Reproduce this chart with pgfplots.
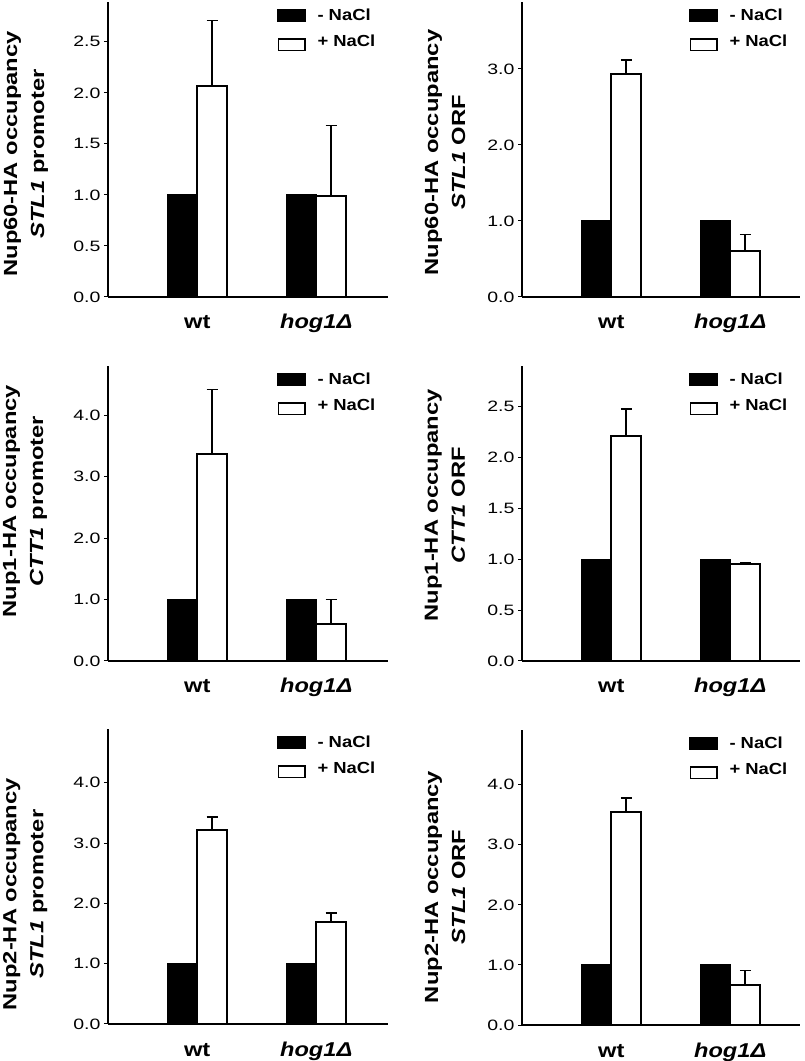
\documentclass[border=0pt]{standalone}
\usepackage{fontspec}
\setmainfont{Liberation Sans}
\newfontfamily\tickf{Liberation Sans}[FakeStretch=1.3]
\newfontfamily\labf{Liberation Sans}[FakeStretch=1.25]
\newfontfamily\xf{Liberation Sans}[FakeStretch=1.18]
\newfontfamily\legf{Liberation Sans}[FakeStretch=1.15]
\usepackage{pgfplots}
\pgfplotsset{compat=1.18}
\pgfplotsset{
  panel/.style={
    scale only axis, width=280pt, height=295pt,
    ybar=0pt, bar width=30pt,
    xmin=0.25, xmax=2.603, ymin=0,
    axis x line*=bottom, axis y line*=left,
    axis line style={-, line width=1.8pt, black},
    xtick={1,2}, xticklabels={wt, \textit{hog1Δ}},
    tick style={line width=1pt, black},
    every x tick/.style={draw=none},
    every major x tick/.style={draw=none},
    tick align=outside, major tick length=4pt,
    /pgf/number format/assume math mode=true,
    yticklabel style={font=\tickf\fontsize{15}{15}\selectfont,
      /pgf/number format/.cd, fixed, fixed zerofill, precision=1},
    xticklabel style={font=\xf\bfseries\fontsize{20}{20}\selectfont, anchor=base, yshift=-28pt},
    ylabel style={align=center, font=\labf\bfseries\fontsize{19}{27}\selectfont, anchor=center, inner sep=0pt},
    legend style={draw=none, fill=none, inner sep=0pt, row sep=12pt,
      at={(axis description cs:1,1)}, anchor=north east, xshift=-12.5pt, yshift=-7pt,
      font=\legf\bfseries\fontsize{16}{16}\selectfont,
      nodes={inner sep=0pt}, cells={anchor=west}},
    clip=false,
  },
  blackbar/.style={fill=black, draw=black, line width=1pt,
    legend image code/.code={\fill[black] (0pt,-5.75pt) rectangle (28pt,6.25pt); \path[draw=none,fill=none] (0pt,0pt) -- (40pt,0pt);}},
  whitebar/.style={fill=white, draw=black, line width=1.8pt,
    error bars/.cd, y dir=plus, y explicit,
    error bar style={line width=1.6pt, black},
    error mark=-,
    error mark options={rotate=90, line width=1.6pt, mark size=5.5pt, black},
    /pgfplots/legend image code/.code={\draw[black, fill=white, line width=1.5pt] (0.75pt,-9.7pt) rectangle (27.25pt,1.8pt); \path[draw=none,fill=none] (0pt,0pt) -- (40pt,0pt);}},
}
\begin{document}
\begin{tikzpicture}
\path[use as bounding box] (0,0) rectangle (805pt,1061pt);
% Panel 1
\begin{axis}[panel, at={(108pt,764pt)}, width=280pt, ymax=2.89, ytick={0,0.5,1,1.5,2,2.5},
  ylabel={Nup60-HA occupancy\\\textit{STL1} promoter},
  ylabel style={at={(axis description cs:-0.293,0.485)}}]
\addplot[blackbar] coordinates {(1,1.0) (2,1.0)};
\addplot[whitebar] coordinates {(1,2.07) +- (0,0.64) (2,0.99) +- (0,0.69)};
\legend{- NaCl, + NaCl}
\end{axis}
% Panel 2
\begin{axis}[panel, at={(522pt,764pt)}, width=278pt, xmax=2.586, ymax=3.88, ytick={0,1,2,3},
  ylabel={Nup60-HA occupancy\\\textit{STL1} ORF},
  ylabel style={at={(axis description cs:-0.277,0.49)}}]
\addplot[blackbar] coordinates {(1,1.0) (2,1.0)};
\addplot[whitebar] coordinates {(1,2.93) +- (0,0.19) (2,0.61) +- (0,0.21)};
\legend{- NaCl, + NaCl}
\end{axis}
% Panel 3
\begin{axis}[panel, at={(108pt,400pt)}, width=280pt, ymax=4.8, ytick={0,1,2,3,4},
  ylabel={Nup1-HA occupancy\\\textit{CTT1} promoter},
  ylabel style={at={(axis description cs:-0.296,0.542)}}]
\addplot[blackbar] coordinates {(1,1.0) (2,1.0)};
\addplot[whitebar] coordinates {(1,3.37) +- (0,1.05) (2,0.60) +- (0,0.40)};
\legend{- NaCl, + NaCl}
\end{axis}
% Panel 4
\begin{axis}[panel, at={(522pt,400pt)}, width=278pt, xmax=2.586, ymax=2.9, ytick={0,0.5,1,1.5,2,2.5},
  ylabel={Nup1-HA occupancy\\\textit{CTT1} ORF},
  ylabel style={at={(axis description cs:-0.277,0.528)}}]
\addplot[blackbar] coordinates {(1,1.0) (2,1.0)};
\addplot[whitebar] coordinates {(1,2.21) +- (0,0.27) (2,0.95) +- (0,0.02)};
\legend{- NaCl, + NaCl}
\end{axis}
% Panel 5
\begin{axis}[panel, at={(108pt,37pt)}, width=280pt, ymax=4.89, ytick={0,1,2,3,4},
  ylabel={Nup2-HA occupancy\\\textit{STL1} promoter},
  ylabel style={at={(axis description cs:-0.296,0.44)}}]
\addplot[blackbar] coordinates {(1,1.0) (2,1.0)};
\addplot[whitebar] coordinates {(1,3.21) +- (0,0.22) (2,1.69) +- (0,0.15)};
\legend{- NaCl, + NaCl}
\end{axis}
% Panel 6
\begin{axis}[panel, at={(522pt,36pt)}, width=278pt, xmax=2.586, ymax=4.91, ytick={0,1,2,3,4},
  ylabel={Nup2-HA occupancy\\\textit{STL1} ORF},
  ylabel style={at={(axis description cs:-0.277,0.468)}}]
\addplot[blackbar] coordinates {(1,1.0) (2,1.0)};
\addplot[whitebar] coordinates {(1,3.54) +- (0,0.24) (2,0.66) +- (0,0.25)};
\legend{- NaCl, + NaCl}
\end{axis}
\end{tikzpicture}
\end{document}
